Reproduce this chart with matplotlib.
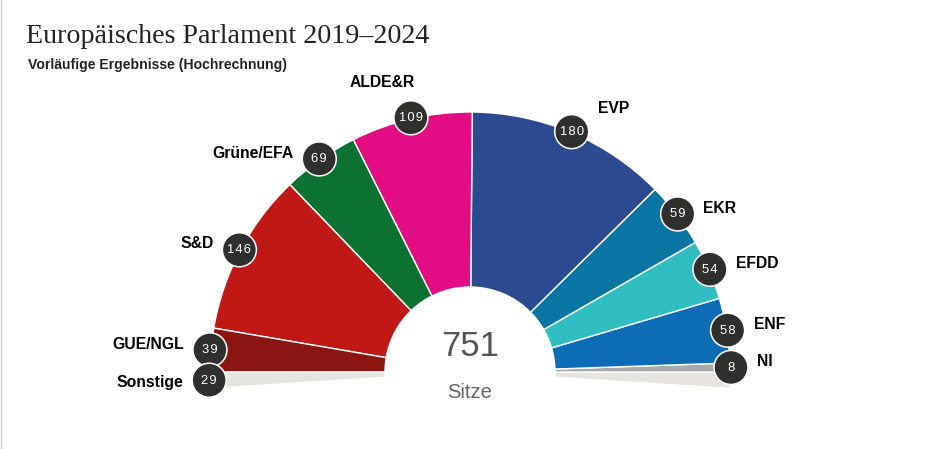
import matplotlib
matplotlib.use("Agg")
import math
import matplotlib.pyplot as plt
from matplotlib.patches import Circle

# Data: counter-clockwise from the right-hand end of the hemicycle
groups = ["NI", "ENF", "EFDD", "EKR", "EVP", "ALDE&R", "Grüne/EFA", "S&D", "GUE/NGL"]
seats = [8, 58, 54, 59, 180, 109, 69, 146, 39]
colors = ["#a9a9a9", "#0c6cb5", "#30bdc1", "#0875a3", "#2c4a8f", "#e30d83", "#0b7232", "#c01814", "#8b1510"]
others_label = "Sonstige"
others_seats = 29
others_color = "#e6e4df"
total_label = "751"
total_unit = "Sitze"
title = "Europäisches Parlament 2019–2024"
subtitle = "Vorläufige Ergebnisse (Hochrechnung)"

# Label offsets from the badge centre, pixels
label_offset = {"NI": (34, -6), "ENF": (42, -6), "EFDD": (47, -6), "EKR": (42, -5.5),
                "EVP": (41.5, -23), "ALDE&R": (-29, -35), "Grüne/EFA": (-66, -5.5),
                "S&D": (-42.5, -6), "GUE/NGL": (-61.5, -5), "Sonstige": (-59, 2)}

W, H = 939, 449
cx, cy, R, r0 = 470, H - 372, 260, 85
fig = plt.figure(figsize=(W / 100, H / 100), dpi=100)
ax = fig.add_axes([0, 0, 1, 1])

# The "others" group is split evenly under both ends of the hemicycle
values = [others_seats / 2] + seats + [others_seats / 2]
cols = [others_color] + colors + [others_color]
span = 180 * sum(values) / sum(seats)
start = -(span - 180) / 2
fractions = [v / sum(values) * span / 360 for v in values]
wedges, _ = ax.pie(fractions, colors=cols, startangle=start, counterclock=True, radius=R,
                   center=(cx, cy), frame=True, normalize=False,
                   wedgeprops=dict(width=R - r0, edgecolor="white", linewidth=1.0))
ax.set_xlim(0, W)
ax.set_ylim(0, H)
ax.set_aspect("equal")
ax.axis("off")

plt.rcParams["font.family"] = "Liberation Sans"

badges = list(zip(wedges[1:-1], groups, seats)) + [(wedges[-1], others_label, others_seats)]
for w, name, val in badges:
    mid = math.radians((w.theta1 + w.theta2) / 2)
    x = cx + (R + 1) * math.cos(mid)
    y = cy + (R + 1) * math.sin(mid)
    ax.add_patch(Circle((x, y), 17, facecolor="#2f2f2d", edgecolor="white", linewidth=1.1, zorder=5))
    ax.text(x, y - 0.5, "\u200a".join(str(val)), color="white", fontsize=9.4, ha="center", va="center",
            zorder=6, family="Liberation Sans")
    dx, dy = label_offset[name]
    ax.text(x + dx, y - dy, name, color="black", fontsize=11.3, fontweight="bold",
            ha="center", va="center", family="Liberation Sans", zorder=6)

ax.text(cx, H - 347, total_label, fontsize=25, color="#555555", ha="center", va="center",
        family="Liberation Sans")
ax.text(cx, H - 393, total_unit, fontsize=14.5, color="#666666", ha="center", va="center",
        family="Liberation Sans")

fig.text(26 / W, 1 - 36.5 / H, title, fontsize=20.2, color="#222222", va="center", ha="left",
         family="Liberation Serif")
fig.text(28 / W, 1 - 65.5 / H, subtitle, fontsize=10.1, color="#222222", fontweight="bold",
         va="center", ha="left", family="Liberation Sans")

ax.axvline(0.5, color="#cccccc", linewidth=1.0)
fig.savefig("out.png", dpi=100, facecolor="white")
